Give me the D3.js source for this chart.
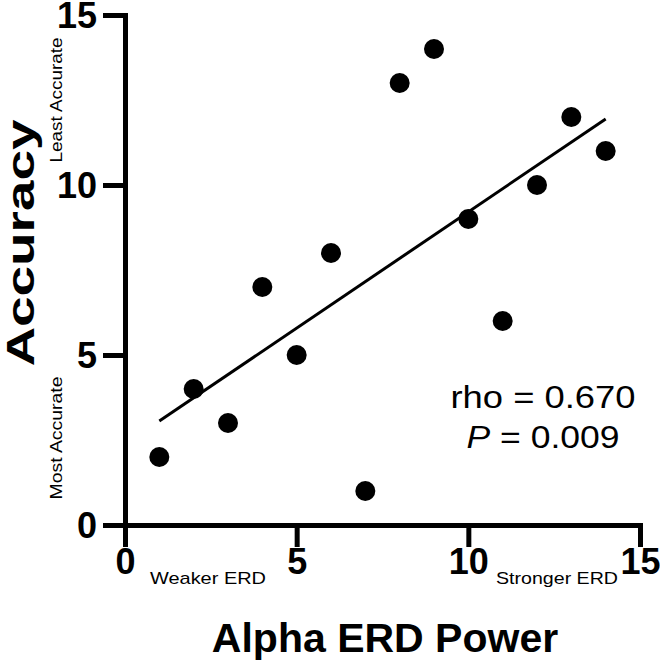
<!DOCTYPE html>
<html>
<head>
<meta charset="utf-8">
<script src="https://cdn.jsdelivr.net/npm/d3@7"></script>
<style>
  html, body { margin: 0; padding: 0; background: #fff; }
  svg { display: block; font-family: "Liberation Sans", Arial, Helvetica, sans-serif; }
</style>
</head>
<body>
<svg id="chart" width="660" height="664"></svg>
<script>
// ---- data ----
const erdPower = [1, 2, 3, 4, 5, 6, 7, 8, 9, 10, 11, 12, 13, 14];
const accuracy = [2, 4, 3, 7, 5, 8, 1, 13, 14, 9, 6, 10, 12, 11];
const xTicks = [0, 5, 10, 15];
const yTicks = [0, 5, 10, 15];
const rhoText = "rho = 0.670";
const pValue = " = 0.009";

const svg = d3.select("#chart");
const x = d3.scaleLinear().domain([0, 15]).range([125, 640]);
const y = d3.scaleLinear().domain([0, 15]).range([525, 15]);

// axes
const xAxis = d3.axisBottom(x).tickValues(xTicks).tickSize(22).tickSizeOuter(0).tickPadding(6);
const yAxis = d3.axisLeft(y).tickValues(yTicks).tickSize(22).tickSizeOuter(0).tickPadding(6);

const gx = svg.append("g").attr("transform", `translate(0,${y(0)})`).call(xAxis);
const gy = svg.append("g").attr("transform", `translate(${x(0)},0)`).call(yAxis);

[gx, gy].forEach(g => {
  g.select(".domain").attr("stroke", "#000").attr("stroke-width", 5).attr("stroke-linecap", "square");
  g.selectAll(".tick line").attr("stroke", "#000").attr("stroke-width", 5);
  g.selectAll(".tick text")
    .attr("fill", "#000")
    .style("font-size", "36px")
    .style("font-weight", "bold")
    .style("font-family", '"Liberation Sans", Arial, sans-serif');
});
gx.selectAll(".tick text").attr("dy", "0.75em").attr("y", 22);
gy.selectAll(".tick text").attr("x", -28).attr("dy", "0.36em");

// regression line
const n = erdPower.length;
const mx = d3.mean(erdPower), my = d3.mean(accuracy);
let sxy = 0, sxx = 0;
for (let i = 0; i < n; i++) { sxy += (erdPower[i] - mx) * (accuracy[i] - my); sxx += (erdPower[i] - mx) ** 2; }
const slope = sxy / sxx, intercept = my - slope * mx;
const [x0, x1] = d3.extent(erdPower);
svg.append("line")
  .attr("x1", x(x0)).attr("y1", y(intercept + slope * x0))
  .attr("x2", x(x1)).attr("y2", y(intercept + slope * x1))
  .attr("stroke", "#000").attr("stroke-width", 3);

// points
svg.append("g").selectAll("circle")
  .data(erdPower.map((d, i) => [d, accuracy[i]]))
  .join("circle")
  .attr("cx", d => x(d[0])).attr("cy", d => y(d[1]))
  .attr("r", 10).attr("fill", "#000");

// stats
svg.append("text").attr("x", 543).attr("y", 408).attr("text-anchor", "middle")
  .style("font-size", "31px").attr("textLength", 185).attr("lengthAdjust", "spacingAndGlyphs")
  .text(rhoText);
const pt = svg.append("text").attr("x", 543).attr("y", 448).attr("text-anchor", "middle")
  .style("font-size", "31px").attr("textLength", 153).attr("lengthAdjust", "spacingAndGlyphs");
pt.append("tspan").style("font-style", "italic").text("P");
pt.append("tspan").text(pValue);

// axis titles
svg.append("text").attr("x", 385).attr("y", 652).attr("text-anchor", "middle")
  .style("font-size", "41px").style("font-weight", "bold").text("Alpha ERD Power");
svg.append("text").attr("transform", "translate(34,243) rotate(-90)").attr("text-anchor", "middle")
  .style("font-size", "38px").style("font-weight", "bold")
  .attr("textLength", 247).attr("lengthAdjust", "spacingAndGlyphs").text("Accuracy");

// annotations
svg.append("text").attr("x", 208).attr("y", 584).attr("text-anchor", "middle")
  .style("font-size", "17px").attr("textLength", 116).attr("lengthAdjust", "spacingAndGlyphs").text("Weaker  ERD");
svg.append("text").attr("x", 557).attr("y", 584).attr("text-anchor", "middle")
  .style("font-size", "17px").attr("textLength", 122).attr("lengthAdjust", "spacingAndGlyphs").text("Stronger ERD");
svg.append("text").attr("transform", "translate(62,100) rotate(-90)").attr("text-anchor", "middle")
  .style("font-size", "17px").attr("textLength", 125).attr("lengthAdjust", "spacingAndGlyphs").text("Least Accurate");
svg.append("text").attr("transform", "translate(62,438) rotate(-90)").attr("text-anchor", "middle")
  .style("font-size", "17px").attr("textLength", 123).attr("lengthAdjust", "spacingAndGlyphs").text("Most Accurate");
</script>
</body>
</html>
